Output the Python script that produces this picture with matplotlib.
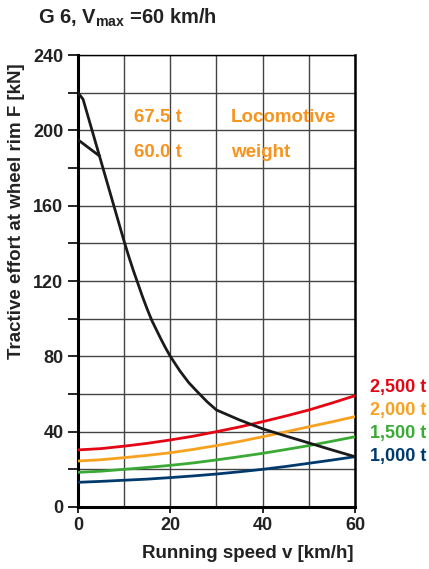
import numpy as np
import matplotlib
matplotlib.use('Agg')
from matplotlib import pyplot as plt

plt.rcParams['font.family'] = ['Liberation Sans', 'DejaVu Sans']
plt.rcParams['font.weight'] = 'bold'
plt.rcParams['mathtext.fontset'] = 'custom'
plt.rcParams['mathtext.rm'] = 'Liberation Sans:bold'

# tractive effort curves (speed km/h, force kN)
v_675 = [0, 1.1, 10, 11, 12, 13, 14, 15, 16, 17, 18, 19, 20, 22, 24, 26, 28, 30,
         35, 40, 45, 50, 55, 60]
f_675 = [220, 216.5, 141, 133, 125.5, 118.5, 111.5, 105, 99, 94, 89, 84.3, 80, 72.5, 66, 60.8, 55.8, 51.5,
         46.2, 41.5, 37.7, 34.0, 30.3, 26.7]
v_600 = [0, 4.6]
f_600 = [195, 186.5]

# train resistance curves
v_res = [0, 5, 10, 15, 20, 25, 30, 35, 40, 45, 50, 55, 60]
r_2500 = [30.3, 31.0, 32.3, 33.8, 35.6, 37.6, 40.0, 42.5, 45.3, 48.3, 51.5, 55.2, 59.1]
r_2000 = [24.4, 25.1, 26.2, 27.4, 28.8, 30.6, 32.6, 34.8, 37.3, 39.9, 42.6, 45.2, 48.0]
r_1500 = [18.4, 19.0, 20.0, 21.0, 22.1, 23.4, 25.0, 26.7, 28.5, 30.5, 32.6, 34.9, 37.3]
r_1000 = [13.1, 13.6, 14.2, 14.8, 15.6, 16.5, 17.5, 18.7, 20.0, 21.5, 23.2, 24.9, 26.7]
loads = ['2,500 t', '2,000 t', '1,500 t', '1,000 t']
load_colors = ['#e30613', '#f7a120', '#3aaa35', '#003a6c']

fig = plt.figure(figsize=(4.29, 5.69), dpi=100)
ax = fig.add_axes([0.1818, 0.109, 0.6457, 0.7943])

for r, c in zip([r_2500, r_2000, r_1500, r_1000], load_colors):
    ax.plot(v_res, r, color=c, lw=2, zorder=3)
ax.plot(v_675, f_675, color='#1a1a1a', lw=2, zorder=4)
ax.plot(v_600, f_600, color='#1a1a1a', lw=2, zorder=4)

ax.set_xlim(0, 60)
ax.set_ylim(0, 240)
ax.set_xticks([0, 20, 40, 60])
ax.set_xticks(np.arange(0, 61, 10), minor=True)
ax.set_yticks(np.arange(0, 241, 40))
ax.set_yticks(np.arange(0, 241, 20), minor=True)
ax.grid(which='both', color='#444444', lw=1)
ax.tick_params(axis='y', which='both', direction='out', length=7, width=1.2,
               labelsize=13, labelcolor='#222222')
ax.tick_params(axis='x', which='major', direction='out', length=4, width=1.2,
               labelsize=13, labelcolor='#222222')
ax.tick_params(axis='x', which='minor', length=0)
for lab in ax.get_xticklabels() + ax.get_yticklabels():
    lab.set_fontweight('bold')
for s in ['left', 'bottom']:
    ax.spines[s].set_linewidth(2.2)
ax.spines['right'].set_linewidth(1.8)
ax.spines['top'].set_linewidth(1.0)

ax.set_xlabel('Running speed v [km/h]', fontsize=13.5, fontweight='bold', color='#222222')
ax.set_ylabel('Tractive effort at wheel rim F [kN]', fontsize=13.5, fontweight='bold', color='#222222')
ax.xaxis.set_label_coords(0.612, -0.084)
ax.yaxis.set_label_coords(-0.19, 0.655)

orange = '#f7941d'
ax.text(12.2, 207, '67.5 t', color=orange, fontsize=13.5, fontweight='bold', va='center')
ax.text(12.2, 188, '60.0 t', color=orange, fontsize=13.5, fontweight='bold', va='center')
ax.text(33.1, 207, 'Locomotive', color=orange, fontsize=13.5, fontweight='bold', va='center')
ax.text(33.1, 188, 'weight', color=orange, fontsize=13.5, fontweight='bold', va='center')

for i, (lab, c) in enumerate(zip(loads, load_colors)):
    ax.text(63.3, 63.2 - i * 12.2, lab, color=c, fontsize=13, fontweight='bold', va='center', clip_on=False)

fig.text(0.0886, 0.968, r'G 6, V$_{\mathregular{max}}$ =60 km/h', fontsize=14.5, fontweight='bold',
         color='#222222', va='center')

fig.savefig('out.png', dpi=100)
